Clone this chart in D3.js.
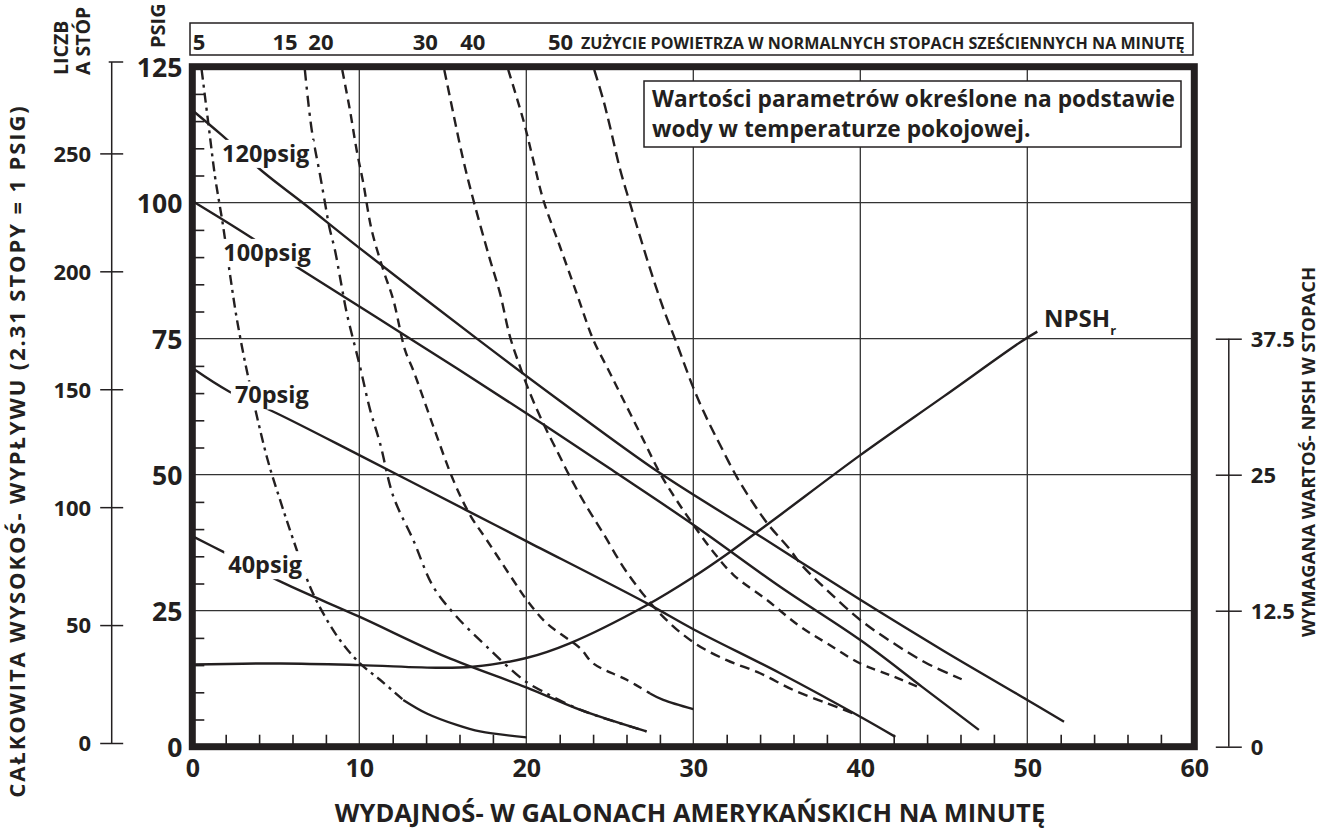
<!DOCTYPE html>
<html>
<head>
<meta charset="utf-8">
<script src="https://cdn.jsdelivr.net/npm/d3@7"></script>
<style>
  html, body { margin: 0; padding: 0; background: #fff; }
  svg { display: block; font-family: "Open Sans", "Noto Sans", sans-serif; font-weight: 700; }
</style>
</head>
<body>
<svg id="chart" width="1320" height="832"></svg>
<script>
// ---- axis values ----
const flowTicks = [0, 10, 20, 30, 40, 50, 60];          // US gallons per minute
const headTicks = [0, 25, 50, 75, 100, 125];            // discharge head, psig
const feetTicks = [0, 50, 100, 150, 200, 250];          // discharge head, feet
const npshTicks = [0, 12.5, 25, 37.5];                  // NPSH required, feet
const flowMinor = d3.range(2, 60, 2).filter(v => v % 10 !== 0);
const headMinor = d3.range(5, 125, 5).filter(v => v % 25 !== 0);

// ---- discharge head at each air inlet pressure: [flow gpm, head psig] ----
const psig120 = [[0,117],[1.7,112.6],[4.3,105.5],[6.65,99.9],[10,91.7],[17,75.1],[22,63.6],[28,50.3],[34,38.7],[40,27],[45,17.6],[50,8.6],[52.2,4.6]];
const psig100 = [[0,100.3],[2.7,95.2],[6.45,87.8],[13,75.1],[20,61.3],[25.4,50.3],[30,40.8],[35.2,29.4],[40,19.6],[43.7,11.0],[47.1,3.1]];
const psig70  = [[0,69.6],[2.2,65.3],[5.05,61.3],[10,53.6],[16.4,43.5],[20,37.8],[27.2,26.4],[30,21.6],[35.2,13.5],[40,5.5],[42.1,1.8]];
const psig40  = [[0,38.7],[1.8,35.9],[5.45,30.1],[10,23.9],[15.2,16.5],[20,10.9],[23.2,6.8],[27.2,2.8]];

// ---- NPSH required: [flow gpm, feet] ----
const npshR = [[0,7.55],[5.3,7.65],[10,7.5],[14.8,7.25],[16.8,7.35],[20,8.15],[22.6,9.5],[27.2,13.0],[30,15.6],[32.2,17.9],[33.7,19.6],[35.2,21.3],[40,26.8],[45,32.2],[49.6,37.2],[50.6,38.15]];

// ---- air consumption, standard cubic feet per minute: [flow gpm, head psig] ----
const scfm5  = [[0.56,124.4],[0.96,114.6],[1.36,104.8],[1.62,99.9],[1.82,96.2],[2.22,87.6],[2.56,80.6],[2.75,77.2],[3.26,69.2],[4.46,53.3],[5.25,45.4],[6.05,38.0],[7.05,29.4],[7.84,24.5],[8.84,19.6],[10.04,15.3],[11.24,12.3],[12.63,8.6],[14.04,6.1],[15.83,4.0],[17.23,2.8],[20.02,1.7]];
const scfm15 = [[6.74,124.4],[7.15,113.4],[7.65,105.1],[7.95,99.9],[8.2,95.6],[8.54,91.3],[8.84,86.4],[9.25,79.7],[10.04,69.9],[10.64,62.0],[11.24,55.8],[12.04,46.0],[13.23,38.0],[14.43,29.4],[15.83,23.9],[17.63,18.4],[19.82,12.3],[21.02,10.1],[23.22,6.8],[27.2,2.8]];
const scfm20 = [[8.98,124.4],[9.44,117.0],[9.84,109.7],[10.24,103.6],[10.74,95.0],[11.44,87.6],[12.04,82.1],[12.74,72.9],[13.23,69.2],[14.43,58.9],[15.63,49.0],[16.63,42.6],[17.63,38.0],[19.22,30.6],[20.02,27.0],[21.22,22.7],[23.22,18.1],[24.01,15.3],[26.01,12.3],[27.41,9.8],[28.2,8.6],[30.0,6.9]];
const scfm30 = [[15.09,124.4],[15.63,116.4],[16.23,107.8],[16.83,100.5],[17.83,89.5],[18.43,83.3],[19.02,75.4],[19.62,69.9],[20.22,65.0],[21.02,59.4],[21.82,54.5],[22.62,49.6],[23.62,44.1],[24.61,39.2],[26.01,32.1],[28.0,24.5],[30.0,19.2],[32.0,15.9],[34.0,13.5],[36.0,10.4],[38.0,8.0],[39.58,6.1]];
const scfm40 = [[18.92,124.4],[19.82,115.2],[20.42,107.8],[21.02,100.5],[22.02,91.9],[23.02,83.3],[24.01,74.8],[24.81,69.9],[25.61,65.0],[27.01,56.4],[28.0,50.3],[29.0,45.3],[30.0,40.8],[31.2,35.8],[32.4,31.6],[34.4,27.0],[36.39,22.1],[38.0,19.0],[40.0,15.3],[42.0,12.9],[43.68,10.7]];
const scfm50 = [[24.07,124.4],[24.61,118.9],[25.01,114.0],[25.61,106.2],[26.21,99.9],[26.81,93.8],[27.5,87.0],[28.2,80.6],[29.0,74.2],[30.0,66.0],[30.8,60.4],[31.6,55.5],[32.6,49.6],[33.6,44.7],[34.5,40.8],[35.8,36.2],[36.4,33.7],[38.0,28.8],[40.0,23.3],[42.0,19.0],[44.0,15.3],[46.07,12.4]];

const airLabels = ["5", "15", "20", "30", "40", "50"];
const airLabelFlow = [0.4, 5.55, 7.7, 13.95, 16.8, 22.05];   // label centres along the flow axis
const airTitle = "ZUŻYCIE POWIETRZA W NORMALNYCH STOPACH SZEŚCIENNYCH NA MINUTĘ";

// curve labels anchored in data units [flow, psig]
const pressureLabels = [
  { text: "120psig", at: [1.78, 107.5] },
  { text: "100psig", at: [1.86, 89.3] },
  { text: "70psig",  at: [2.55, 63.1] },
  { text: "40psig",  at: [2.15, 31.9] }
];

const ink = "#231f20";
const svg = d3.select("#chart");

// strips the default font settings d3 puts on an axis group
const plainAxis = g => g.attr("font-family", null).attr("font-size", null);

// ---- scales ----
const x = d3.scaleLinear().domain([0, 60]).range([192.3, 1194.3]);
const y = d3.scaleLinear().domain([0, 125]).range([746.7, 66.7]);
const yFeet = d3.scaleLinear().domain([0, 125 * 2.31]).range([743, 62]);
const yNpsh = d3.scaleLinear().domain([0, 62.5]).range([746.7, 66.7]);

// ---- grid ----
const grid = svg.append("g").attr("stroke", "#333").attr("stroke-width", 1.3);
grid.selectAll("line.v").data([10, 20, 30, 40, 50]).join("line")
  .attr("x1", d => x(d)).attr("x2", d => x(d)).attr("y1", y(0)).attr("y2", y(125));
grid.selectAll("line.h").data([25, 50, 75, 100]).join("line")
  .attr("x1", x(0)).attr("x2", x(60)).attr("y1", d => y(d)).attr("y2", d => y(d));

// inner minor ticks
svg.append("g").attr("transform", `translate(${x(0)},0)`)
  .call(d3.axisRight(y).tickValues(headMinor).tickSize(12).tickFormat(""))
  .call(g => g.select(".domain").remove())
  .call(g => g.selectAll("line").attr("stroke", ink).attr("stroke-width", 1.6));
svg.append("g").attr("transform", `translate(0,${y(0)})`)
  .call(d3.axisTop(x).tickValues(flowMinor).tickSize(12).tickFormat(""))
  .call(g => g.select(".domain").remove())
  .call(g => g.selectAll("line").attr("stroke", ink).attr("stroke-width", 1.6));

// ---- curves ----
const smooth = d3.line().x(d => x(d[0])).y(d => y(d[1])).curve(d3.curveCatmullRom.alpha(0.5));
const curves = svg.append("g").attr("fill", "none").attr("stroke", ink).attr("stroke-linecap", "butt");

const airSets = [
  { pts: scfm5,  tail: 12.63, dash: "10,5,3,5" },
  { pts: scfm15, tail: null,  dash: "11,6,3,6" },
  { pts: scfm20, tail: 27.41, dash: "9,6" },
  { pts: scfm30, tail: null,  dash: "10,6" },
  { pts: scfm40, tail: null,  dash: "9,6" },
  { pts: scfm50, tail: null,  dash: "11,6" }
];
airSets.forEach(s => {
  const dashed = s.tail == null ? s.pts : s.pts.filter(p => p[0] <= s.tail);
  curves.append("path").attr("d", smooth(dashed))
    .attr("stroke-width", 2.4).attr("stroke-dasharray", s.dash);
  if (s.tail != null) {
    curves.append("path").attr("d", smooth(s.pts.filter(p => p[0] >= s.tail)))
      .attr("stroke-width", 2.3);
  }
});

[psig120, psig100, psig70, psig40].forEach(pts => {
  curves.append("path").attr("d", smooth(pts)).attr("stroke-width", 2.4);
});

const npshLine = d3.line().x(d => x(d[0])).y(d => yNpsh(d[1])).curve(d3.curveCatmullRom.alpha(0.5));
curves.append("path").attr("d", npshLine(npshR)).attr("stroke-width", 2.4);

// ---- curve labels (knocked out of the lines beneath) ----
const labelLayer = svg.append("g");
pressureLabels.forEach(l => {
  const t = labelLayer.append("text")
    .attr("x", x(l.at[0])).attr("y", y(l.at[1]))
    .attr("font-size", 23.5).attr("fill", ink).text(l.text);
  const b = t.node().getBBox();
  labelLayer.insert("rect", () => t.node())
    .attr("x", b.x - 4).attr("y", b.y + 3).attr("width", b.width + 8).attr("height", b.height - 4)
    .attr("fill", "#fff");
});
const npshLabel = labelLayer.append("text")
  .attr("x", x(51.0)).attr("y", y(77.2)).attr("font-size", 24).attr("fill", ink);
npshLabel.append("tspan").text("NPSH");
npshLabel.append("tspan").attr("font-size", 13).attr("dy", 8).text("r");

// ---- legend note ----
const note = svg.append("g");
note.append("rect").attr("x", 644).attr("y", 81).attr("width", 537).attr("height", 66)
  .attr("fill", "#fff").attr("stroke", ink).attr("stroke-width", 1.5);
note.append("text").attr("x", 652).attr("y", 107).attr("font-size", 22.7).attr("fill", ink)
  .text("Wartości parametrów określone na podstawie");
note.append("text").attr("x", 652).attr("y", 137).attr("font-size", 22.7).attr("fill", ink)
  .text("wody w temperaturze pokojowej.");

// ---- frame ----
svg.append("rect").attr("x", x(0)).attr("y", y(125))
  .attr("width", x(60) - x(0)).attr("height", y(0) - y(125))
  .attr("fill", "none").attr("stroke", ink).attr("stroke-width", 7);

// ---- inner head axis (psig) ----
svg.append("g").attr("transform", `translate(${x(0)},0)`)
  .call(d3.axisLeft(y).tickValues(headTicks).tickSize(0).tickPadding(10))
  .call(plainAxis)
  .call(g => g.select(".domain").remove())
  .call(g => g.selectAll("text").attr("font-size", 26.5).attr("fill", ink).attr("dy", "0.36em"));

// ---- flow axis ----
svg.append("g").attr("transform", `translate(0,${y(0)})`)
  .call(d3.axisBottom(x).tickValues(flowTicks).tickSize(0).tickPadding(13))
  .call(plainAxis)
  .call(g => g.select(".domain").remove())
  .call(g => g.selectAll("text").attr("font-size", 25).attr("fill", ink));

// ---- outer head axis (feet) ----
const feetAxis = svg.append("g").attr("transform", "translate(111.7,0)")
  .call(d3.axisLeft(yFeet).tickValues(feetTicks).tickSize(11.5).tickPadding(9))
  .call(plainAxis)
  .call(g => g.select(".domain").remove())
  .call(g => g.selectAll("line").attr("x2", -11.5).attr("x1", 11.5).attr("stroke", ink).attr("stroke-width", 1.5))
  .call(g => g.selectAll("text").attr("font-size", 22).attr("fill", ink).attr("dy", "0.36em"));
feetAxis.append("line").attr("y1", yFeet(0)).attr("y2", yFeet(125 * 2.31))
  .attr("stroke", ink).attr("stroke-width", 1.5);
feetAxis.append("line").attr("x1", -3).attr("x2", 11.5).attr("y1", yFeet(125 * 2.31)).attr("y2", yFeet(125 * 2.31))
  .attr("stroke", ink).attr("stroke-width", 1.5);

// ---- NPSH axis (feet) ----
const npshAxis = svg.append("g").attr("transform", "translate(1228.8,0)")
  .call(d3.axisRight(yNpsh).tickValues(npshTicks).tickSize(13).tickPadding(9)
    .tickFormat(d3.format("")))
  .call(plainAxis)
  .call(g => g.select(".domain").remove())
  .call(g => g.selectAll("line").attr("x1", -13).attr("stroke", ink).attr("stroke-width", 1.5))
  .call(g => g.selectAll("text").attr("font-size", 22).attr("fill", ink).attr("dy", "0.36em"));
npshAxis.append("line").attr("y1", yNpsh(0)).attr("y2", yNpsh(37.5))
  .attr("stroke", ink).attr("stroke-width", 1.5);

// ---- air consumption scale strip ----
const strip = svg.append("g");
strip.append("rect").attr("x", 190).attr("y", 23).attr("width", 1003).attr("height", 32)
  .attr("fill", "#fff").attr("stroke", ink).attr("stroke-width", 1.5);
strip.selectAll("text.n").data(airLabels).join("text")
  .attr("x", (d, i) => x(airLabelFlow[i])).attr("y", 50)
  .attr("text-anchor", "middle").attr("font-size", 22).attr("fill", ink).text(d => d);
strip.append("text").attr("x", 581).attr("y", 48.5).attr("font-size", 16.1).attr("fill", ink).text(airTitle);

// ---- axis titles ----
svg.append("text").attr("x", 690).attr("y", 822).attr("text-anchor", "middle")
  .attr("font-size", 25.5).attr("fill", ink)
  .text("WYDAJNOŚ- W GALONACH AMERYKAŃSKICH NA MINUTĘ");
svg.append("text").attr("transform", "translate(25,451) rotate(-90)").attr("text-anchor", "middle")
  .attr("font-size", 22).attr("letter-spacing", 1.9).attr("fill", ink)
  .text("CAŁKOWITA WYSOKOŚ- WYPŁYWU (2.31 STOPY = 1 PSIG)");
svg.append("text").attr("transform", "translate(1315,452) rotate(-90)").attr("text-anchor", "middle")
  .attr("font-size", 18.4).attr("fill", ink)
  .text("WYMAGANA WARTOŚ- NPSH W STOPACH");
svg.append("text").attr("transform", "translate(165,48) rotate(-90)")
  .attr("font-size", 20).attr("fill", ink).text("PSIG");
svg.append("text").attr("transform", "translate(68.3,75) rotate(-90)")
  .attr("font-size", 19.5).attr("fill", ink).text("LICZB");
svg.append("text").attr("transform", "translate(90,75) rotate(-90)")
  .attr("font-size", 19.5).attr("fill", ink).text("A STÓP");
</script>
</body>
</html>
